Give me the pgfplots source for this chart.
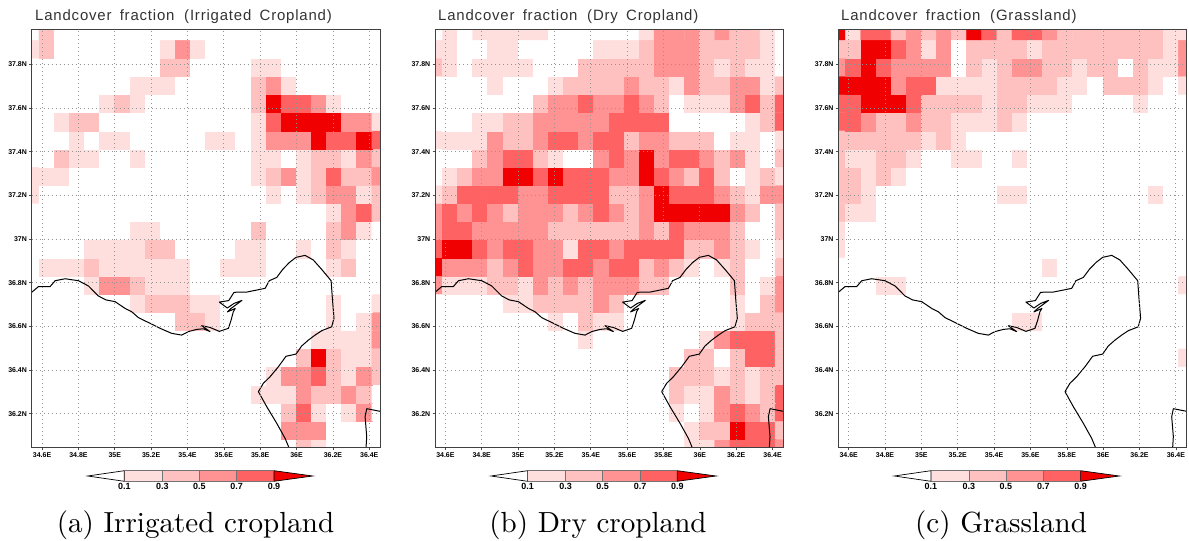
\documentclass[border=0pt]{standalone}
\usepackage{fontspec}
\usepackage{pgfplots}
\usepackage{pgfplotstable}
\pgfplotsset{compat=1.18}
\newfontfamily\lsans{Liberation Sans}
\newfontfamily\lbold{Liberation Sans Bold}
\definecolor{L1}{RGB}{255,222,222}
\definecolor{L2}{RGB}{255,192,192}
\definecolor{L3}{RGB}{255,146,146}
\definecolor{L4}{RGB}{255,98,98}
\definecolor{L5}{RGB}{240,0,0}
% land cover fraction, in tenths, at the middle of each colour class
\pgfplotstableread[header=false]{
0 4 0 0 0 0 0 0 0 0 0 0 0 0 0 0 0 0 0 0 0 0 0 0
2 4 0 0 0 0 0 0 0 2 6 2 0 0 0 0 0 0 0 0 0 0 0 0
0 0 0 0 0 0 0 0 0 4 4 0 0 0 0 2 2 0 0 0 0 0 0 0
0 0 0 0 0 0 0 2 2 2 0 0 0 0 0 4 6 2 0 0 0 0 0 0
0 0 0 0 0 2 4 2 0 0 0 0 0 0 0 4 10 8 8 6 2 0 0 0
0 0 2 4 4 0 0 0 0 0 0 0 0 0 0 2 8 10 10 10 10 6 6 2
0 0 0 2 0 2 2 0 0 0 0 0 2 2 0 2 6 6 6 10 8 8 10 8
0 0 4 2 2 0 0 2 0 0 0 0 0 0 0 2 2 0 2 4 4 2 6 4
2 2 2 0 0 0 0 0 0 0 0 0 0 0 0 2 4 6 2 4 8 4 4 6
2 0 0 0 0 0 0 0 0 0 0 0 0 0 0 0 2 0 2 4 6 6 2 4
0 0 0 0 0 0 0 0 0 0 0 0 0 0 0 0 0 0 0 0 2 6 8 4
0 0 0 0 0 0 0 2 2 0 0 0 0 0 0 4 0 0 0 0 4 6 2 0
0 0 0 0 2 2 2 2 4 4 0 0 0 0 2 2 0 0 2 0 4 2 0 0
0 2 2 2 4 2 2 2 2 2 2 0 0 2 2 2 0 0 0 0 2 4 0 0
0 0 0 0 2 6 6 4 2 2 2 0 0 0 0 0 0 0 0 0 0 0 0 0
0 0 0 0 0 0 0 2 4 4 4 2 2 0 0 0 0 0 0 0 2 0 0 2
0 0 0 0 0 0 0 0 0 0 4 4 2 0 0 0 0 0 0 0 2 0 2 6
0 0 0 0 0 0 0 0 0 0 0 0 0 0 0 0 0 0 0 2 2 2 2 6
0 0 0 0 0 0 0 0 0 0 0 0 0 0 0 0 0 0 4 10 4 2 2 4
0 0 0 0 0 0 0 0 0 0 0 0 0 0 0 0 2 6 6 8 4 2 6 4
0 0 0 0 0 0 0 0 0 0 0 0 0 0 0 2 2 2 6 4 4 6 4 0
0 0 0 0 0 0 0 0 0 0 0 0 0 0 0 0 0 4 8 2 0 2 6 0
0 0 0 0 0 0 0 0 0 0 0 0 0 0 0 0 0 6 6 6 0 0 0 0
0 0 0 0 0 0 0 0 0 0 0 0 0 0 0 0 0 0 4 2 0 0 0 0
}\tabIrr
\pgfplotstableread[header=false]{
0 2 0 2 2 2 2 2 0 0 0 0 0 0 2 6 6 6 4 6 4 4 2 0
2 2 0 0 2 2 0 0 0 0 0 2 2 2 4 6 6 6 4 4 4 4 2 0
4 2 0 2 2 2 2 0 0 0 4 4 4 4 4 6 6 6 4 2 4 2 2 0
0 0 0 0 2 0 0 0 2 4 4 4 4 6 4 4 2 6 4 4 6 6 2 4
0 0 0 0 0 0 0 4 6 6 8 6 6 8 6 4 0 2 2 2 6 8 4 8
0 0 0 2 2 4 4 6 6 6 6 6 8 8 8 8 0 0 0 0 0 2 4 8
2 2 2 2 6 4 4 6 8 8 6 8 8 4 6 6 4 4 4 0 2 2 0 2
0 0 0 4 6 8 8 4 2 0 0 6 8 6 10 6 8 8 6 4 6 2 0 4
0 2 4 6 6 10 10 8 10 8 8 8 6 6 10 8 6 4 8 4 0 2 4 2
2 4 8 8 8 8 6 6 8 8 8 8 4 4 6 10 8 8 8 6 4 2 6 6
6 8 6 8 6 4 6 6 6 4 6 8 6 4 6 10 10 10 10 10 6 4 0 4
6 8 8 6 6 6 6 6 4 4 4 4 4 4 6 4 8 6 6 6 4 0 0 4
8 10 10 8 6 8 8 6 6 2 8 8 6 8 8 8 8 4 4 6 4 2 0 2
10 6 6 6 4 6 8 6 6 8 8 6 8 8 4 6 4 2 0 2 4 0 0 4
6 2 2 2 4 4 2 6 4 6 4 6 6 6 4 4 0 0 0 0 4 0 2 6
0 0 0 0 0 2 2 4 4 4 4 6 4 0 0 0 0 0 0 0 2 0 4 6
0 0 0 0 0 0 0 0 2 0 4 2 2 0 0 0 0 0 0 0 2 4 4 4
0 0 0 0 0 0 0 0 0 0 2 0 0 0 0 0 0 0 2 6 8 8 8 4
0 0 0 0 0 0 0 0 0 0 0 0 0 0 0 0 0 4 4 0 4 8 8 4
0 0 0 0 0 0 0 0 0 0 0 0 0 0 0 0 4 4 4 2 4 2 4 4
0 0 0 0 0 0 0 0 0 0 0 0 0 0 0 0 4 2 2 6 4 2 4 8
0 0 0 0 0 0 0 0 0 0 0 0 0 0 0 0 2 0 2 6 8 6 4 8
0 0 0 0 0 0 0 0 0 0 0 0 0 0 0 0 0 2 4 4 10 8 8 4
0 0 0 0 0 0 0 0 0 0 0 0 0 0 0 0 0 2 2 6 8 8 8 6
}\tabDry
\pgfplotstableread[header=false]{
10 2 8 8 4 6 4 6 4 10 8 4 8 8 6 4 4 4 4 4 4 4 2 2
4 4 10 10 8 6 2 6 0 4 4 4 4 2 4 4 4 4 4 4 4 4 2 6
6 8 10 8 6 6 6 6 0 4 2 4 6 6 4 4 2 4 4 0 4 2 2 6
10 10 10 10 6 8 8 2 2 2 2 4 4 4 4 2 2 0 4 4 4 2 0 2
8 8 10 10 10 8 4 4 4 4 2 4 4 2 2 2 0 0 0 0 2 0 0 0
8 8 6 4 4 6 4 4 2 2 2 4 2 0 0 0 0 0 0 0 0 0 0 0
4 4 4 4 4 4 2 4 2 0 0 0 0 0 0 0 0 0 0 0 0 0 0 0
4 2 2 4 4 2 0 0 2 2 0 0 2 0 0 0 0 0 0 0 0 0 0 0
4 4 2 4 2 0 0 0 0 0 0 0 0 0 0 0 0 0 0 0 0 0 0 0
4 4 2 0 0 0 0 0 0 0 0 2 2 0 0 0 0 0 0 0 0 2 0 0
4 2 2 0 0 0 0 0 0 0 0 0 0 0 0 0 0 0 0 0 0 0 0 0
2 0 0 0 0 0 0 0 0 0 0 0 0 0 0 0 0 0 0 0 0 0 0 0
2 0 0 0 0 0 0 0 0 0 0 0 0 0 0 0 0 0 0 0 0 0 0 0
0 0 0 0 0 0 0 0 0 0 0 0 0 0 2 0 0 0 0 0 0 0 0 0
0 0 0 2 2 0 0 0 0 0 0 0 0 0 0 0 0 0 0 0 0 0 0 2
0 0 0 0 0 0 0 0 0 0 0 0 0 0 0 0 0 0 0 0 0 0 0 0
0 0 0 0 0 0 0 0 0 0 0 0 2 2 0 0 0 0 0 0 0 0 0 0
0 0 0 0 0 0 0 0 0 0 0 0 0 0 0 0 0 0 0 0 0 0 0 0
0 0 0 0 0 0 0 0 0 0 0 0 0 0 0 0 0 0 0 0 0 0 0 2
0 0 0 0 0 0 0 0 0 0 0 0 0 0 0 0 0 0 0 0 0 0 0 0
0 0 0 0 0 0 0 0 0 0 0 0 0 0 0 0 0 0 0 0 0 0 0 0
0 0 0 0 0 0 0 0 0 0 0 0 0 0 0 0 0 0 0 0 0 0 0 0
0 0 0 0 0 0 0 0 0 0 0 0 0 0 0 0 0 0 0 0 0 0 0 0
0 0 0 0 0 0 0 0 0 0 0 0 0 0 0 0 0 0 0 0 0 0 0 0
}\tabGra
% coastline, lon lat
\pgfplotstableread{
34.543 36.756
34.580 36.782
34.644 36.782
34.672 36.809
34.727 36.818
34.800 36.809
34.855 36.785
34.910 36.739
34.952 36.721
35.002 36.713
35.057 36.682
35.093 36.667
35.130 36.640
35.194 36.614
35.249 36.591
35.313 36.568
35.368 36.560
35.405 36.576
35.451 36.586
35.487 36.589
35.524 36.576
35.478 36.603
35.524 36.595
35.575 36.577
35.625 36.591
35.640 36.629
35.652 36.667
35.663 36.682
35.619 36.666
35.638 36.681
35.700 36.719
35.656 36.705
35.619 36.684
35.575 36.711
35.627 36.718
35.656 36.756
35.726 36.757
35.827 36.774
35.850 36.809
35.891 36.824
35.924 36.861
35.960 36.892
35.997 36.916
36.047 36.925
36.092 36.904
36.138 36.861
36.190 36.809
36.197 36.728
36.206 36.637
36.193 36.598
36.138 36.580
36.102 36.560
36.065 36.537
36.028 36.510
35.997 36.473
35.942 36.463
35.900 36.415
35.854 36.369
35.817 36.339
35.790 36.301
35.836 36.232
35.891 36.156
35.937 36.087
35.960 36.041
}\tabCoastA
\pgfplotstableread{
36.382 36.041
36.386 36.095
36.377 36.186
36.386 36.223
36.459 36.211
}\tabCoastB
\newcommand{\buildlist}[2]{%
  \gdef#2{}%
  \pgfplotsforeachungrouped \r in {23,22,...,0}{%
    \pgfplotsforeachungrouped \c in {0,...,23}{%
      \pgfplotstablegetelem{\r}{[index]\c}\of{#1}%
      \pgfmathsetmacro\lx{34.5415+\c*0.0832}%
      \pgfmathsetmacro\ly{37.953-\r*0.0831}%
      \xdef#2{#2 (\lx,\ly) [\pgfplotsretval]}%
    }%
  }%
}
\buildlist{\tabIrr}{\listIrr}
\buildlist{\tabDry}{\listDry}
\buildlist{\tabGra}{\listGra}
\pgfplotsset{
  lcax/.style={
    scale only axis, width=348.3bp, height=418bp, anchor=south west,
    xmin=34.543, xmax=36.459, ymin=36.043, ymax=37.957,
    y dir=normal,
    xtick={34.6,34.8,35,35.2,35.4,35.6,35.8,36,36.2,36.4},
    xticklabels={34.6E,34.8E,35E,35.2E,35.4E,35.6E,35.8E,36E,36.2E,36.4E},
    ytick={36.2,36.4,36.6,36.8,37,37.2,37.4,37.6,37.8},
    yticklabels={36.2N,36.4N,36.6N,36.8N,37N,37.2N,37.4N,37.6N,37.8N},
    tick pos=left, tick align=outside, major tick length=2.5bp,
    tick style={black!70,line width=0.6bp},
    xticklabel style={font=\fontsize{7}{8}\lbold, yshift=1.2bp},
    yticklabel style={font=\fontsize{7}{8}\lbold, xshift=1.2bp},
    grid=major, grid style={black!42, line width=0.8bp, dash pattern=on 0.9bp off 3.1bp},
    axis on top,
    axis line style={black!75, line width=1bp},
    colormap={lc}{rgb255=(255,255,255) rgb255=(255,222,222) rgb255=(255,192,192) rgb255=(255,146,146) rgb255=(255,98,98) rgb255=(240,0,0)},
    point meta min=0, point meta max=10,
  },
  lccell/.style={matrix plot*, shader=faceted, faceted color=mapped color, line width=0.35bp, mesh/cols=24, point meta=explicit, forget plot},
  lccoast/.style={black, line width=1bp, no markers, line join=round, forget plot},
}
\newcommand{\cbar}[1]{%
  \begin{scope}[x=1bp,y=1bp,shift={(#1bp,0)}]
    \fill[white] (87.7,65) -- (124.3,70.3) -- (124.3,59.7) -- cycle;
    \fill[L1] (124.3,59.7) rectangle (162.3,70.3);
    \fill[L2] (162.3,59.7) rectangle (199.3,70.3);
    \fill[L3] (199.3,59.7) rectangle (236.7,70.3);
    \fill[L4] (236.7,59.7) rectangle (274,70.3);
    \fill[L5] (274,59.7) -- (312.7,65) -- (274,70.3) -- cycle;
    \draw[black,line width=0.7bp] (124.3,70.3) -- (87.7,65) -- (124.3,59.7) -- cycle;
    \draw[black,line width=0.7bp] (274,70.3) -- (312.7,65) -- (274,59.7) -- cycle;
    \draw[black!55,line width=0.6bp] (124.3,70.3) -- (274,70.3) (124.3,59.7) -- (274,59.7)
       (162.3,59.7) -- (162.3,70.3) (199.3,59.7) -- (199.3,70.3) (236.7,59.7) -- (236.7,70.3);
    \foreach \p/\t in {124.3/0.1,162.3/0.3,199.3/0.5,236.7/0.7,274/0.9}
      \node[font=\fontsize{9}{10}\lbold, inner sep=0pt, anchor=base] at (\p,52) {\t};
  \end{scope}}
\newcommand{\lctitle}[2]{\node[font=\fontsize{15}{16}\lsans, text=black!80, anchor=base west, inner sep=0pt] at (#1bp,520bp) {\addfontfeature{LetterSpace=5.5}\spaceskip=0.55em Landcover fraction\hspace{0.65em}#2};}
\newcommand{\capt}[2]{\node[scale=2.92, font=\fontsize{10}{12}\selectfont, anchor=base, inner sep=0pt] at (#1bp,8.5bp) {#2};}
\begin{document}
\begin{tikzpicture}
\useasboundingbox (0,0) rectangle (1189bp,541bp);
\begin{axis}[lcax, at={(31.7bp,93bp)}]
  \edef\tmp{\noexpand\addplot[lccell] coordinates {\listIrr};}\tmp
  \addplot[lccoast] table {\tabCoastA};
  \addplot[lccoast] table {\tabCoastB};
\end{axis}
\begin{axis}[lcax, at={(435bp,93bp)}]
  \edef\tmp{\noexpand\addplot[lccell] coordinates {\listDry};}\tmp
  \addplot[lccoast] table {\tabCoastA};
  \addplot[lccoast] table {\tabCoastB};
\end{axis}
\begin{axis}[lcax, at={(838.3bp,93bp)}]
  \edef\tmp{\noexpand\addplot[lccell] coordinates {\listGra};}\tmp
  \addplot[lccoast] table {\tabCoastA};
  \addplot[lccoast] table {\tabCoastB};
\end{axis}
\lctitle{35}{(Irrigated Cropland)}
\lctitle{438}{(Dry Cropland)}
\lctitle{841}{(Grassland)}
\cbar{0}\cbar{403.3}\cbar{806.6}
\capt{195.5}{(a) Irrigated cropland}
\capt{598}{(b) Dry cropland}
\capt{1001}{(c) Grassland}
\end{tikzpicture}
\end{document}
